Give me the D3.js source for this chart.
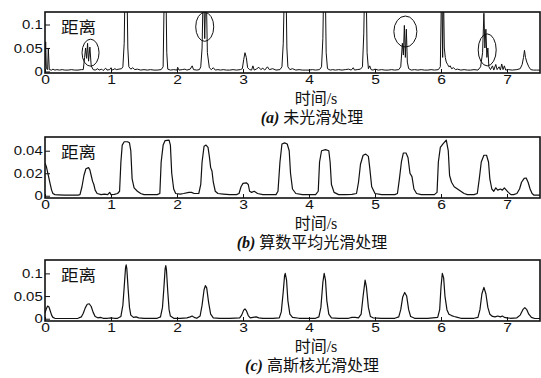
<!DOCTYPE html>
<html>
<head>
<meta charset="utf-8">
<script src="https://cdn.jsdelivr.net/npm/d3@7"></script>
<style>
  body { margin: 0; background: #fff; }
  text { fill: #111; }
</style>
</head>
<body>
<svg id="chart" width="541" height="378"></svg>
<script>
// tick values
const timeTicks = [0, 1, 2, 3, 4, 5, 6, 7];
const rawTicks = [0, 0.05, 0.1];
const meanTicks = [0, 0.02, 0.04];
const gaussTicks = [0, 0.05, 0.1];

// (a) raw distance signal, [time s, distance]
const rawSignal = [
  [0.00,0.012],[0.01,0.063],[0.02,0.006],[0.04,0.004],[0.05,0.05],[0.065,0.004],
  [0.10,0.003],[0.12,0.005],[0.15,0.003],[0.18,0.004],[0.22,0.003],[0.26,0.004],[0.30,0.003],[0.35,0.003],[0.40,0.004],
  [0.45,0.003],[0.50,0.003],[0.55,0.004],
  [0.58,0.004],[0.60,0.03],[0.615,0.05],[0.63,0.028],[0.645,0.06],[0.66,0.022],[0.68,0.052],[0.70,0.012],[0.73,0.004],
  [0.76,0.003],[0.80,0.006],[0.82,0.003],[0.86,0.005],[0.88,0.002],[0.92,0.007],[0.94,0.003],[0.98,0.004],[1.00,0.008],
  [1.02,0.003],[1.06,0.006],[1.08,0.004],[1.12,0.005],[1.16,0.006],
  [1.18,0.01],[1.20,0.06],[1.215,0.2],[1.24,0.2],[1.255,0.05],[1.27,0.01],[1.30,0.005],[1.33,0.008],[1.36,0.004],
  [1.40,0.005],[1.45,0.003],[1.50,0.004],[1.55,0.003],[1.60,0.004],[1.65,0.003],[1.70,0.003],[1.76,0.004],
  [1.79,0.01],[1.81,0.2],[1.83,0.2],[1.845,0.04],[1.86,0.005],[1.90,0.003],[1.95,0.004],[2.00,0.003],[2.01,0.009],
  [2.03,0.003],[2.08,0.004],[2.12,0.005],[2.15,0.003],[2.20,0.005],[2.23,0.012],[2.25,0.004],[2.30,0.003],[2.34,0.004],
  [2.36,0.01],[2.38,0.05],[2.40,0.2],[2.42,0.07],[2.44,0.2],[2.46,0.04],[2.49,0.008],
  [2.52,0.004],[2.55,0.008],[2.58,0.003],[2.62,0.004],[2.66,0.003],[2.70,0.004],[2.75,0.003],[2.80,0.003],[2.85,0.004],
  [2.90,0.003],[2.96,0.004],
  [2.99,0.006],[3.01,0.025],[3.03,0.04],[3.05,0.03],[3.07,0.008],[3.10,0.004],[3.13,0.003],[3.15,0.012],[3.17,0.003],
  [3.20,0.005],[3.24,0.009],[3.27,0.004],[3.30,0.007],[3.33,0.003],[3.37,0.01],[3.40,0.004],[3.45,0.006],[3.50,0.003],
  [3.56,0.004],
  [3.59,0.01],[3.61,0.06],[3.63,0.2],[3.65,0.2],[3.665,0.05],[3.68,0.01],[3.71,0.004],[3.75,0.006],[3.80,0.003],
  [3.85,0.004],[3.90,0.003],[3.95,0.003],[4.00,0.003],[4.05,0.004],[4.10,0.003],[4.16,0.004],
  [4.19,0.01],[4.21,0.07],[4.225,0.2],[4.245,0.2],[4.26,0.04],[4.28,0.006],[4.32,0.003],[4.36,0.004],[4.40,0.003],
  [4.45,0.004],[4.50,0.003],[4.55,0.004],[4.60,0.005],[4.64,0.003],[4.67,0.008],[4.69,0.003],[4.73,0.004],[4.78,0.005],
  [4.81,0.01],[4.83,0.08],[4.845,0.2],[4.865,0.2],[4.88,0.04],[4.90,0.006],[4.92,0.012],[4.94,0.004],[4.97,0.003],
  [5.00,0.005],[5.05,0.003],[5.10,0.004],[5.15,0.003],[5.20,0.003],[5.25,0.004],[5.30,0.003],[5.36,0.004],
  [5.39,0.01],[5.415,0.06],[5.43,0.035],[5.445,0.098],[5.46,0.03],[5.475,0.09],[5.49,0.02],[5.51,0.006],
  [5.55,0.003],[5.60,0.004],[5.65,0.003],[5.70,0.004],[5.75,0.003],[5.80,0.003],[5.85,0.004],[5.90,0.003],[5.96,0.004],
  [5.99,0.01],[6.01,0.2],[6.025,0.03],[6.035,0.2],[6.05,0.05],[6.065,0.03],[6.08,0.02],[6.10,0.015],[6.12,0.01],
  [6.14,0.012],[6.16,0.006],[6.19,0.008],[6.22,0.004],[6.25,0.005],[6.30,0.003],[6.35,0.004],[6.40,0.003],[6.45,0.003],
  [6.50,0.004],[6.56,0.003],
  [6.60,0.01],[6.63,0.04],[6.65,0.124],[6.665,0.05],[6.68,0.09],[6.695,0.03],[6.71,0.05],[6.725,0.01],
  [6.75,0.004],[6.78,0.012],[6.80,0.003],[6.83,0.015],[6.85,0.004],[6.88,0.01],[6.90,0.003],[6.92,0.016],[6.94,0.004],
  [6.96,0.012],[6.98,0.003],[7.02,0.004],[7.08,0.003],[7.15,0.004],
  [7.20,0.006],[7.23,0.015],[7.25,0.03],[7.265,0.045],[7.28,0.03],[7.30,0.02],[7.33,0.01],[7.36,0.004],[7.40,0.003],
  [7.45,0.003],[7.50,0.003]
];

// (b) moving-average smoothed
const meanSmoothed = [
  [0,0.029],[0.02,0.026],[0.05,0.018],[0.08,0.01],[0.10,0.005],[0.12,0.002],[0.15,0.001],[0.20,0.0008],[0.30,0.0005],
  [0.40,0.0005],[0.50,0.0006],[0.53,0.001],[0.56,0.008],[0.59,0.018],[0.62,0.024],[0.66,0.025],[0.68,0.023],[0.70,0.018],
  [0.72,0.013],[0.74,0.01],[0.76,0.005],[0.79,0.002],[0.85,0.001],[0.90,0.0015],[0.95,0.001],[0.98,0.003],[1.00,0.001],
  [1.05,0.0012],[1.10,0.002],[1.13,0.004],[1.15,0.03],[1.17,0.045],[1.20,0.048],[1.25,0.048],[1.28,0.047],[1.30,0.04],
  [1.32,0.015],[1.35,0.007],[1.40,0.004],[1.45,0.002],[1.50,0.001],[1.60,0.001],[1.70,0.001],[1.74,0.002],[1.76,0.03],
  [1.79,0.045],[1.82,0.049],[1.88,0.0495],[1.90,0.045],[1.92,0.02],[1.95,0.006],[1.98,0.002],[2.05,0.0015],[2.10,0.002],
  [2.18,0.003],[2.22,0.003],[2.26,0.002],[2.33,0.002],[2.36,0.01],[2.38,0.03],[2.41,0.044],[2.44,0.045],[2.47,0.043],
  [2.49,0.035],[2.51,0.025],[2.53,0.022],[2.55,0.012],[2.58,0.004],[2.62,0.002],[2.70,0.0015],[2.80,0.001],[2.90,0.001],
  [2.94,0.002],[2.97,0.008],[3.00,0.011],[3.05,0.0115],[3.08,0.01],[3.10,0.004],[3.13,0.003],[3.17,0.004],[3.22,0.002],
  [3.30,0.001],[3.40,0.001],[3.50,0.001],[3.53,0.004],[3.56,0.03],[3.59,0.046],[3.63,0.047],[3.67,0.046],[3.70,0.04],
  [3.72,0.02],[3.75,0.006],[3.80,0.002],[3.90,0.001],[4.00,0.001],[4.10,0.001],[4.14,0.004],[4.16,0.03],[4.19,0.04],
  [4.25,0.041],[4.30,0.04],[4.32,0.03],[4.34,0.01],[4.38,0.003],[4.45,0.001],[4.55,0.001],[4.65,0.0012],[4.72,0.002],
  [4.75,0.012],[4.78,0.028],[4.82,0.036],[4.86,0.037],[4.90,0.035],[4.92,0.025],[4.95,0.008],[5.00,0.002],[5.10,0.001],
  [5.20,0.001],[5.30,0.001],[5.34,0.002],[5.37,0.015],[5.40,0.03],[5.43,0.038],[5.47,0.038],[5.50,0.034],[5.53,0.02],
  [5.56,0.017],[5.59,0.006],[5.63,0.002],[5.70,0.001],[5.80,0.001],[5.90,0.001],[5.94,0.003],[5.96,0.03],[5.99,0.043],
  [6.03,0.046],[6.08,0.0495],[6.11,0.04],[6.13,0.018],[6.16,0.012],[6.20,0.008],[6.25,0.006],[6.30,0.004],[6.35,0.002],
  [6.40,0.001],[6.50,0.001],[6.55,0.002],[6.58,0.015],[6.61,0.03],[6.65,0.036],[6.69,0.036],[6.72,0.03],[6.74,0.015],
  [6.77,0.006],[6.80,0.004],[6.83,0.007],[6.86,0.005],[6.90,0.006],[6.93,0.005],[6.96,0.007],[6.99,0.005],[7.02,0.003],
  [7.06,0.001],[7.10,0.001],[7.15,0.002],[7.19,0.006],[7.22,0.012],[7.26,0.0155],[7.29,0.0158],[7.32,0.012],[7.35,0.006],
  [7.38,0.002],[7.41,0.0005],[7.50,0.0005]
];

// (c) gaussian-kernel smoothed
const gaussSmoothed = [
  [0,0.013],[0.02,0.022],[0.04,0.028],[0.06,0.026],[0.08,0.017],[0.10,0.008],[0.12,0.003],[0.15,0.001],[0.25,0.0005],
  [0.40,0.0005],[0.50,0.001],[0.55,0.004],[0.58,0.012],[0.61,0.024],[0.64,0.032],[0.67,0.033],[0.70,0.027],[0.73,0.014],
  [0.76,0.005],[0.80,0.002],[0.84,0.003],[0.88,0.001],[0.95,0.001],[1.00,0.002],[1.05,0.001],[1.10,0.001],[1.15,0.005],
  [1.18,0.03],[1.20,0.07],[1.22,0.112],[1.23,0.119],[1.24,0.11],[1.26,0.065],[1.28,0.025],[1.30,0.008],[1.34,0.003],
  [1.38,0.004],[1.42,0.002],[1.50,0.001],[1.60,0.001],[1.70,0.001],[1.75,0.004],[1.78,0.025],[1.80,0.065],[1.82,0.11],
  [1.83,0.117],[1.84,0.108],[1.86,0.06],[1.88,0.02],[1.90,0.006],[1.95,0.001],[2.05,0.001],[2.15,0.002],[2.20,0.004],
  [2.23,0.006],[2.26,0.003],[2.30,0.001],[2.35,0.006],[2.38,0.03],[2.41,0.064],[2.43,0.073],[2.45,0.068],[2.48,0.035],
  [2.51,0.01],[2.55,0.002],[2.65,0.001],[2.80,0.001],[2.95,0.002],[2.98,0.008],[3.01,0.019],[3.03,0.0215],[3.05,0.018],
  [3.08,0.007],[3.11,0.002],[3.15,0.003],[3.20,0.004],[3.24,0.002],[3.30,0.001],[3.45,0.001],[3.55,0.002],[3.58,0.015],
  [3.61,0.06],[3.63,0.095],[3.64,0.1],[3.66,0.085],[3.68,0.04],[3.71,0.01],[3.75,0.003],[3.85,0.001],[4.00,0.001],
  [4.10,0.001],[4.15,0.004],[4.18,0.025],[4.21,0.08],[4.23,0.1],[4.25,0.085],[4.27,0.04],[4.30,0.01],[4.34,0.002],
  [4.45,0.001],[4.60,0.001],[4.65,0.003],[4.70,0.003],[4.75,0.002],[4.79,0.01],[4.82,0.05],[4.85,0.085],[4.87,0.07],
  [4.90,0.025],[4.93,0.005],[4.97,0.002],[5.10,0.001],[5.30,0.001],[5.36,0.004],[5.39,0.02],[5.42,0.048],[5.45,0.058],
  [5.48,0.05],[5.51,0.02],[5.54,0.005],[5.60,0.001],[5.80,0.001],[5.95,0.003],[5.98,0.02],[6.00,0.07],[6.02,0.1],
  [6.04,0.09],[6.06,0.05],[6.09,0.02],[6.12,0.01],[6.16,0.007],[6.20,0.005],[6.25,0.003],[6.30,0.001],[6.50,0.001],
  [6.56,0.003],[6.59,0.02],[6.62,0.055],[6.65,0.069],[6.68,0.055],[6.71,0.025],[6.74,0.01],[6.78,0.005],[6.82,0.004],
  [6.86,0.006],[6.90,0.004],[6.93,0.006],[6.96,0.003],[7.00,0.002],[7.05,0.001],[7.15,0.002],[7.20,0.008],[7.24,0.02],
  [7.27,0.0245],[7.30,0.02],[7.33,0.01],[7.37,0.003],[7.42,0.0005],[7.50,0.0005]
];

// circled spikes in (a), [time s, distance]
const rawMarks = [[0.69, 0.040], [2.42, 0.095], [5.46, 0.085], [6.70, 0.046]];

const yLabel = "距离";
const xLabel = "时间/s";
const captionTags = ["(a)", "(b)", "(c)"];
const captionTexts = ["未光滑处理", "算数平均光滑处理", "高斯核光滑处理"];

const svg = d3.select("#chart");
const left = 45, right = 540;
const numFont = "'Liberation Sans', Arial, sans-serif";
const cjkFont = "'Liberation Serif', 'Noto Sans CJK SC', serif";

const x = d3.scaleLinear().domain([0, 7.5]).range([left, right]);

const panels = [
  { data: rawSignal, ticks: rawTicks, top: 12, bottom: 73, domain: [-0.0032, 0.1266], marks: rawMarks },
  { data: meanSmoothed, ticks: meanTicks, top: 137, bottom: 198, domain: [-0.002, 0.0522] },
  { data: gaussSmoothed, ticks: gaussTicks, top: 260, bottom: 321, domain: [-0.005, 0.1295] }
];

panels.forEach((p, i) => {
  const y = d3.scaleLinear().domain(p.domain).range([p.bottom, p.top]);
  const g = svg.append("g");

  g.append("clipPath").attr("id", "clip" + i)
    .append("rect")
    .attr("x", left).attr("y", p.top)
    .attr("width", right - left).attr("height", p.bottom - p.top);

  const line = d3.line().x(d => x(d[0])).y(d => y(d[1]));
  g.append("path")
    .datum(p.data)
    .attr("clip-path", `url(#clip${i})`)
    .attr("fill", "none")
    .attr("stroke", "#111")
    .attr("stroke-width", i === 0 ? 1 : 1.2)
    .attr("stroke-linejoin", "round")
    .attr("d", line);

  // x axis, ticks pointing inward
  const xAxis = g.append("g")
    .attr("transform", `translate(0,${p.bottom})`)
    .call(d3.axisBottom(x).tickValues(timeTicks).tickSizeInner(-4).tickSizeOuter(0).tickPadding(2).tickFormat(d => d));
  xAxis.select(".domain").remove();
  xAxis.selectAll("text")
    .attr("font-family", numFont).attr("font-size", 13)
    .attr("transform", "scale(1.2,1)");

  const yAxis = g.append("g")
    .attr("transform", `translate(${left},0)`)
    .call(d3.axisLeft(y).tickValues(p.ticks).tickSizeInner(-5).tickSizeOuter(0).tickPadding(2).tickFormat(d => d));
  yAxis.select(".domain").remove();
  yAxis.selectAll("text")
    .attr("font-family", numFont).attr("font-size", 13)
    .attr("transform", "scale(1.15,1)");
  g.selectAll(".tick line").attr("stroke", "#111").attr("stroke-width", 1);

  g.append("rect")
    .attr("x", left).attr("y", p.top)
    .attr("width", right - left).attr("height", p.bottom - p.top)
    .attr("fill", "none").attr("stroke", "#111").attr("stroke-width", 1.6);

  g.append("text")
    .attr("transform", `translate(61,${p.top + 21}) scale(1.1,1)`)
    .attr("font-family", cjkFont).attr("font-size", 16)
    .text(yLabel);

  g.append("text")
    .attr("x", 316).attr("y", p.bottom + 31)
    .attr("text-anchor", "middle")
    .attr("font-family", cjkFont).attr("font-size", 16)
    .text(xLabel);

  const cap = g.append("text")
    .attr("x", 312).attr("y", p.bottom + 50)
    .attr("text-anchor", "middle")
    .attr("font-family", cjkFont).attr("font-size", 16);
  cap.append("tspan").attr("font-style", "italic").attr("font-weight", "bold").text(captionTags[i]);
  cap.append("tspan").text(" " + captionTexts[i]);

  if (p.marks) {
    const radii = [[8.5, 13.5], [9, 14.5], [11.5, 15.5], [9, 16]];
    g.selectAll("ellipse")
      .data(p.marks)
      .enter().append("ellipse")
      .attr("cx", d => x(d[0]))
      .attr("cy", d => y(d[1]))
      .attr("rx", (d, k) => radii[k][0])
      .attr("ry", (d, k) => radii[k][1])
      .attr("fill", "none")
      .attr("stroke", "#111")
      .attr("stroke-width", 1);
  }
});
</script>
</body>
</html>
